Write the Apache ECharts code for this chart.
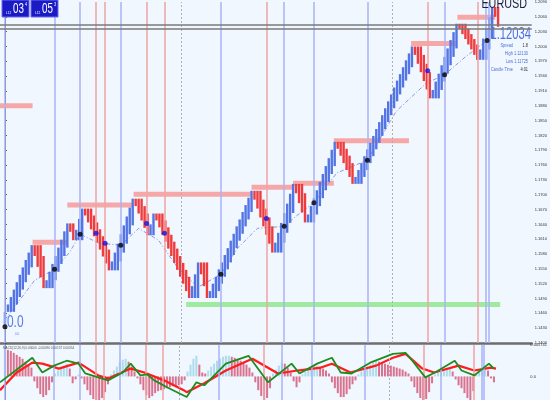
<!DOCTYPE html>
<html>
<head>
<meta charset="utf-8">
<script src="https://cdn.jsdelivr.net/npm/echarts@6/dist/echarts.min.js"></script>
<style>
  html, body { margin: 0; padding: 0; background: #f0f7ff; }
  #chart { width: 550px; height: 400px; }
</style>
</head>
<body>
<div id="chart"></div>
<script>
// renko brick closes, one per column
const closes = [
  1.1463,
  1.1478, 1.1493, 1.1508, 1.1523, 1.1538, 1.1553, 1.1568, 1.1583, 1.1598,
  1.1576, 1.1554, 1.1533, 1.1511,
  1.1527, 1.1544, 1.1560, 1.1576, 1.1593, 1.1609, 1.1626, 1.1642,
  1.1625, 1.1608,
  1.1629, 1.1651, 1.1672,
  1.1658, 1.1644, 1.1630, 1.1616, 1.1603, 1.1589, 1.1575, 1.1561, 1.1547,
  1.1565, 1.1583, 1.1601, 1.1620, 1.1638, 1.1656, 1.1674, 1.1692,
  1.1677, 1.1662, 1.1648, 1.1633, 1.1618,
  1.1640, 1.1662,
  1.1648, 1.1634, 1.1619, 1.1605, 1.1591, 1.1576, 1.1562, 1.1548, 1.1534, 1.1520, 1.1505, 1.1491,
  1.1515, 1.1539, 1.1563,
  1.1539, 1.1515, 1.1491,
  1.1505, 1.1520, 1.1534, 1.1549, 1.1563, 1.1578, 1.1592, 1.1607, 1.1621, 1.1636, 1.1650, 1.1665, 1.1679, 1.1694, 1.1708,
  1.1690, 1.1672, 1.1654, 1.1636, 1.1619, 1.1601, 1.1583,
  1.1603, 1.1623, 1.1643, 1.1663, 1.1682, 1.1702, 1.1722,
  1.1703, 1.1683, 1.1664, 1.1644,
  1.1660, 1.1677, 1.1693, 1.1709, 1.1726, 1.1742, 1.1758, 1.1774, 1.1791, 1.1807,
  1.1793, 1.1779, 1.1764, 1.1750, 1.1736, 1.1722,
  1.1736, 1.1750, 1.1764, 1.1778, 1.1792, 1.1805, 1.1819, 1.1833, 1.1847, 1.1861,
  1.1875, 1.1889, 1.1903, 1.1917, 1.1931, 1.1944, 1.1958, 1.1972, 1.1986, 1.2000,
  1.1983, 1.1965, 1.1948, 1.1930, 1.1913, 1.1895,
  1.1912, 1.1929, 1.1945, 1.1962, 1.1979, 1.1996, 1.2013, 1.2029, 1.2046,
  1.2036, 1.2025, 1.2015, 1.2004, 1.1994, 1.1983, 1.1973,
  1.1994, 1.2016, 1.2037, 1.2059, 1.2080,
  1.2060, 1.2040
];

// trailing dashed average, [brick index, price]
const trailLine = [
  [0, 1.1447], [5, 1.1487], [10, 1.1527], [16.7, 1.1549], [21.7, 1.1583], [25.3, 1.1620],
  [31.7, 1.1602], [39, 1.1598], [45, 1.1632], [51.7, 1.1608], [58.3, 1.1551], [65, 1.1513],
  [72.7, 1.1539], [78.3, 1.1592], [85, 1.1632], [94, 1.1636], [98.3, 1.1658], [104, 1.1684],
  [111.7, 1.1744], [122, 1.1770], [131.7, 1.1869], [141.7, 1.1925], [148, 1.1943],
  [155, 1.1979], [162.3, 1.2012]
];

const buyDots = [
  [0, 1.1433], [16.7, 1.1549], [25.3, 1.1620], [39, 1.1598], [72.7, 1.1539],
  [94, 1.1636], [104, 1.1684], [122, 1.1770], [148, 1.1943], [162.3, 1.2012]
];
const sellDots = [
  [30.7, 1.1622], [33.7, 1.1602], [47.7, 1.1642], [53.7, 1.1622], [88, 1.1652], [142.3, 1.1951]
];

const buyLines = [0, 16.7, 25.3, 39, 72.7, 94, 104, 122, 148, 161.7, 162.7];
const sellLines = [30.7, 33.7, 47.7, 53.7, 88, 142.3, 159.3];
const sessionLines = [59.3, 130.3];

// [from index, price, to index]
const resistanceLevels = [
  [-1.67, 1.1880, 9.3], [9.3, 1.1604, 21], [21, 1.1679, 42.7], [43.3, 1.1701, 82.7],
  [83, 1.1715, 97.3], [97, 1.1723, 110.7], [110.7, 1.1809, 136], [136.7, 1.2006, 151.7],
  [152.3, 1.2059, 165]
];
const supportLevels = [[61, 1.1478, 166.7]];

const priceLines = [1.20444, 1.20351];
const lastPrice = 1.2040;

// oscillator panel
const macdHist = [
  0.0028, 0.0027, 0.0026, 0.0024, 0.0022, 0.0020, 0.0018, 0.0015, 0.0012, 0.0009,
  -0.0005, -0.0012, -0.0018, -0.0021, -0.0019, -0.0014, -0.0006,
  0.0003, 0.0006, 0.0009, 0.0011, 0.0013, 0.0008, -0.0007, -0.0003, 0.0002, -0.0002,
  -0.0008, -0.0014, -0.0019, -0.0023, -0.0024, -0.0024, -0.0022, -0.0016, -0.0008,
  0.0002, 0.0006, 0.0010, 0.0014, 0.0017, 0.0018, 0.0015, 0.0010, 0.0005,
  -0.0002, -0.0008, -0.0014, -0.0019, -0.0022, -0.0020, -0.0017, -0.0015, -0.0014, -0.0013,
  -0.0012, -0.0011, -0.0010, -0.0010, -0.0009, -0.0008, -0.0004,
  0.0005, 0.0012, 0.0018, 0.0021, 0.0012, 0.0004, 0.0003,
  0.0006, 0.0010, 0.0013, 0.0016, 0.0018, 0.0020, 0.0021, 0.0021,
  0.0020, 0.0019, 0.0018, 0.0016, 0.0014, 0.0012, 0.0009, 0.0004,
  -0.0006, -0.0014, -0.0020, -0.0024, -0.0022, -0.0012,
  0.0003, 0.0007, 0.0011, 0.0014, 0.0013, 0.0009, 0.0004,
  -0.0005, -0.0011, -0.0006,
  0.0002, 0.0005, 0.0008, 0.0010, 0.0011, 0.0011, 0.0010, 0.0008, 0.0006, 0.0003,
  -0.0006, -0.0012, -0.0017, -0.0021, -0.0021, -0.0018, -0.0013, -0.0008, -0.0004,
  0.0002, 0.0005, 0.0008, 0.0010, 0.0012, 0.0014, 0.0016,
  0.0015, 0.0014, 0.0013, 0.0012, 0.0011, 0.0010, 0.0009, 0.0008, 0.0007, 0.0005, 0.0003,
  -0.0005, -0.0011, -0.0017, -0.0022, -0.0024, -0.0023, -0.0016, -0.0007,
  0.0002, 0.0004, 0.0006, 0.0007, 0.0008, 0.0008, 0.0005,
  -0.0003, -0.0009, -0.0012, -0.0017, -0.0022, -0.0024, -0.0015,
  0.0002, 0.0005, 0.0008, 0.0009, 0.0006,
  -0.0002, -0.0006
];
const macdLine = [
  [-1.67, -0.0006], [9.3, 0.0019], [12.7, 0.0004], [16.7, 0.0011], [21, 0.0016], [25, 0.0013],
  [27.3, 0.0003], [35, -0.0004], [40, 0.0004], [42.7, 0.0013], [46, 0.0001], [48.3, 0.0002],
  [50.7, -0.0004], [55, -0.0011], [61.7, -0.0021], [65, -0.0006], [67.7, -0.0009], [75, 0.0013],
  [82.7, 0.0021], [89.3, -0.0006], [97.3, 0.0013], [100, 0.0003], [106, 0.0013], [111, 0.0019],
  [114, 0.0004], [117.7, 0.0003], [124, 0.0014], [131.7, 0.0023], [136, 0.0024], [138.3, 0.0016],
  [142.7, -0.0001], [146, 0.0004], [152.7, 0.0016], [155, 0.0006], [159.3, 0.0001],
  [164.3, 0.0013], [166, 0.0008]
];
const signalLine = [
  [-1.67, -0.0014], [4, 0.0004], [9.3, 0.0014], [12.7, 0.0013], [18.3, 0.0008], [25, 0.0014],
  [31.7, 0.0001], [35, -0.0002], [42.7, 0.0008], [47.3, 0.0004], [54, -0.0004], [60.7, -0.0014],
  [61.7, -0.0016], [67.7, -0.0007], [75, 0.0006], [84, 0.0018], [92.7, 0.0003], [99.3, 0.0006],
  [107.3, 0.0009], [111, 0.0013], [117.3, 0.0004], [126, 0.0011], [131.7, 0.0019], [136, 0.0023],
  [141.7, 0.0008], [145.7, 0.0004], [154, 0.0011], [159.3, 0.0006], [165, 0.0009], [166.7, 0.0008]
];

const UP = '#5274e4';
const DOWN = '#f03a3c';
const FONT = '"Liberation Sans", Arial, sans-serif';

// far end of each column: up to three bricks back within the same leg
const bodyEnd = (i) => {
  if (i === 0) return closes[0] - 2 * (closes[1] - closes[0]);
  const dir = Math.sign(closes[i] - closes[i - 1]);
  let j = i - 1;
  let k = 1;
  while (k < 3 && j > 0 && Math.sign(closes[j] - closes[j - 1]) === dir) {
    j--;
    k++;
  }
  return closes[j];
};
const renkoData = closes.map((c, i) => [i, c, bodyEnd(i)]);

const chart = echarts.init(document.getElementById('chart'));

const vLines = () => [
  ...buyLines.map((v) => ({ xAxis: v, lineStyle: { color: '#a9b3f6', width: 1.5, type: 'solid' } })),
  ...sellLines.map((v) => ({ xAxis: v, lineStyle: { color: '#f2a3a3', width: 1.5, type: 'solid' } })),
  ...sessionLines.map((v) => ({ xAxis: v, lineStyle: { color: '#b0b0b0', width: 1, type: [2, 2] } })),
];

const vLineSeries = (idx) => ({
  type: 'line',
  xAxisIndex: idx,
  yAxisIndex: idx,
  data: [],
  z: 1,
  silent: true,
  markLine: { symbol: 'none', silent: true, animation: false, precision: 3, label: { show: false }, data: vLines() },
});

const levelSeries = (data, color) => ({
  type: 'custom',
  xAxisIndex: 0,
  yAxisIndex: 0,
  z: 2,
  silent: true,
  data,
  renderItem: (params, api) => {
    const a = api.coord([api.value(0), api.value(1)]);
    const b = api.coord([api.value(2), api.value(1)]);
    return {
      type: 'rect',
      shape: { x: a[0], y: a[1] - 2.5, width: b[0] - a[0], height: 5 },
      style: { fill: color },
    };
  },
});

// condensed text helper for the MetaTrader-style labels
const txt = (x, y, text, size, fill, extra = {}) => ({
  type: 'text',
  z: extra.z ?? 11,
  x,
  y,
  scaleX: extra.scaleX ?? 0.78,
  style: { text, fill, fontSize: size, fontFamily: FONT, align: extra.align ?? 'left' },
});

const option = {
  animation: false,
  backgroundColor: '#f0f7ff',
  grid: [
    { left: 0, right: 12, top: 0, height: 343 },
    { left: 0, right: 12, top: 345, height: 55 },
  ],
  xAxis: [0, 1].map((gi) => ({
    type: 'value',
    gridIndex: gi,
    min: -1.667,
    max: 177.333,
    axisLine: { show: gi === 0, onZero: false, lineStyle: { color: '#6e6e6e', width: 2.5 } },
    axisTick: { show: false },
    axisLabel: { show: false },
    splitLine: { show: false },
  })),
  yAxis: [
    {
      type: 'value',
      gridIndex: 0,
      position: 'right',
      min: 1.14,
      max: 1.209,
      interval: 0.003,
      axisLine: { show: true, lineStyle: { color: '#555' } },
      axisTick: { show: true, length: 2, lineStyle: { color: '#555' } },
      axisLabel: { fontSize: 4, color: '#333', margin: 3, formatter: (v) => v.toFixed(4) },
      splitLine: { show: false },
    },
    {
      type: 'value',
      gridIndex: 1,
      position: 'right',
      min: -0.0024,
      max: 0.0032,
      interval: 0.0008,
      axisLine: { show: true, lineStyle: { color: '#555' } },
      axisTick: { show: false },
      axisLabel: {
        fontSize: 4,
        color: '#333',
        margin: 3,
        formatter: (v) => (Math.abs(v) < 1e-9 ? '0.0' : Math.abs(v - 0.0032) < 1e-9 ? '0.005741' : ''),
      },
      splitLine: { show: false },
    },
  ],
  series: [
    vLineSeries(0),
    vLineSeries(1),
    levelSeries(resistanceLevels, '#f6a8a8'),
    levelSeries(supportLevels, '#9fea9f'),
    {
      type: 'line',
      xAxisIndex: 0,
      yAxisIndex: 0,
      data: trailLine,
      symbol: 'none',
      z: 3,
      lineStyle: { color: '#8a98e4', width: 1, type: [4, 2, 1, 2] },
    },
    {
      type: 'custom',
      xAxisIndex: 0,
      yAxisIndex: 0,
      z: 4,
      data: renkoData,
      renderItem: (params, api) => {
        const close = api.value(1);
        const end = api.value(2);
        const a = api.coord([api.value(0), close]);
        const b = api.coord([api.value(0), end]);
        return {
          type: 'rect',
          shape: { x: a[0] - 1.2, y: Math.min(a[1], b[1]), width: 2.4, height: Math.abs(b[1] - a[1]) },
          style: { fill: close > end ? UP : DOWN },
        };
      },
    },
    {
      // bid/ask lines and the last-price tag on the axis
      type: 'line',
      xAxisIndex: 0,
      yAxisIndex: 0,
      data: [],
      z: 6,
      silent: true,
      markLine: {
        symbol: 'none',
        silent: true,
        animation: false,
        precision: 5,
        data: [
          ...priceLines.map((p) => ({ yAxis: p, lineStyle: { color: '#7a7a7a', width: 1.5, type: 'solid' }, label: { show: false } })),
          {
            yAxis: lastPrice,
            lineStyle: { opacity: 0 },
            label: {
              show: true,
              position: 'end',
              formatter: '1.20340',
              backgroundColor: '#111',
              color: '#fff',
              fontSize: 4,
              padding: [3, 1],
              distance: 1,
            },
          },
        ],
      },
    },
    {
      type: 'scatter',
      xAxisIndex: 0,
      yAxisIndex: 0,
      z: 5,
      data: buyDots,
      symbolSize: 5,
      itemStyle: { color: '#000' },
    },
    {
      type: 'scatter',
      xAxisIndex: 0,
      yAxisIndex: 0,
      z: 5,
      data: sellDots,
      symbolSize: 5,
      itemStyle: { color: '#1414e0' },
    },
    {
      type: 'bar',
      xAxisIndex: 1,
      yAxisIndex: 1,
      z: 3,
      barWidth: 2,
      data: macdHist.map((v, i) => [i, v]),
      itemStyle: {
        color: (p) => {
          const i = p.dataIndex;
          const v = macdHist[i];
          const prev = i > 0 ? macdHist[i - 1] : v;
          return v > 0 && v >= prev ? '#aedbea' : '#d9728e';
        },
      },
    },
    {
      type: 'line',
      xAxisIndex: 1,
      yAxisIndex: 1,
      z: 4,
      data: signalLine,
      symbol: 'none',
      lineStyle: { color: '#ff1c1c', width: 2.2 },
    },
    {
      type: 'line',
      xAxisIndex: 1,
      yAxisIndex: 1,
      z: 5,
      data: macdLine,
      symbol: 'none',
      lineStyle: { color: '#1f8c1f', width: 1.8 },
    },
  ],
  graphic: [
    { type: 'rect', z: 10, shape: { x: 2, y: 0, width: 27, height: 17 }, style: { fill: '#1b1bc6', stroke: '#6a6af2', lineWidth: 1 } },
    { type: 'rect', z: 10, shape: { x: 31, y: 0, width: 27, height: 17 }, style: { fill: '#1b1bc6', stroke: '#6a6af2', lineWidth: 1 } },
    txt(6, 11, 'L12', 4, '#fff'),
    txt(13, 2, '03', 14, '#fff', { scaleX: 0.7 }),
    txt(25, 2, '4', 5, '#fff'),
    txt(35, 11, 'L12', 4, '#fff'),
    txt(42, 2, '05', 14, '#fff', { scaleX: 0.7 }),
    txt(54, 2, '3', 5, '#fff'),
    txt(527, -4, 'EURUSD', 15, '#1c1c33', { align: 'right', scaleX: 0.72 }),
    txt(531, 26, '1.12034', 17, '#4d6fe0', { align: 'right', scaleX: 0.66, z: 0 }),
    txt(513, 43, 'Spread', 5, '#4f6fd8', { align: 'right' }),
    txt(528, 43, '1.8', 5, '#333', { align: 'right' }),
    txt(528, 51, 'High 1.12130', 5, '#4f6fd8', { align: 'right' }),
    txt(528, 59, 'Low 1.11725', 5, '#4f6fd8', { align: 'right' }),
    txt(513, 67, 'Candle Time', 5, '#4f6fd8', { align: 'right' }),
    txt(528, 67, '4:01', 5, '#333', { align: 'right' }),
    txt(7, 314, '0.0', 17, '#5a7be8', { scaleX: 0.7 }),
    txt(15, 332, '0.0', 4, '#5a7be8'),
    txt(3, 346, 'MACD(12,26,9) 0.00000 -0.00090 0.00137 0.00054', 4, '#555'),
  ],
};

chart.setOption(option);
</script>
</body>
</html>
